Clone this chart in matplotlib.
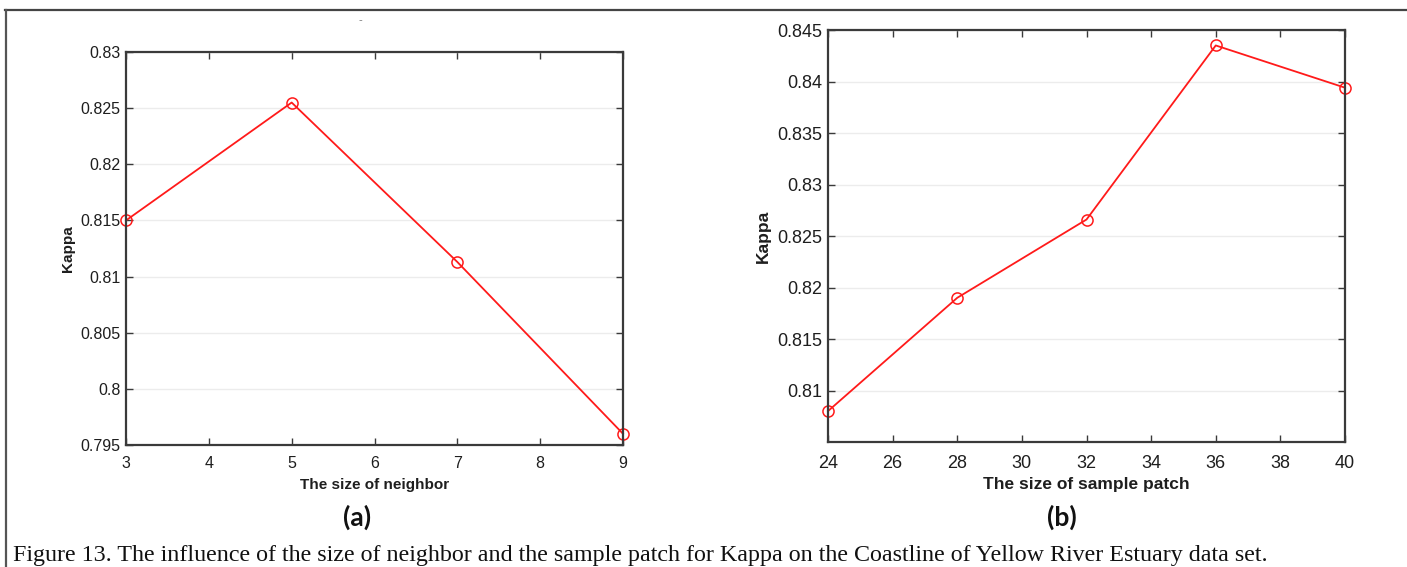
import matplotlib
matplotlib.use("Agg")
import matplotlib.pyplot as plt
from matplotlib.lines import Line2D

# Kappa versus neighbourhood size
neighbor_sizes = [3, 5, 7, 9]
kappa_neighbor = [0.8150, 0.8255, 0.8113, 0.7960]

# Kappa versus sample patch size
patch_sizes = [24, 28, 32, 36, 40]
kappa_patch = [0.8080, 0.8190, 0.8266, 0.8435, 0.8394]

neighbor_xticks = [3, 4, 5, 6, 7, 8, 9]
neighbor_yticks = [0.795, 0.8, 0.805, 0.81, 0.815, 0.82, 0.825, 0.83]
neighbor_yticklabels = ["0.795", "0.8", "0.805", "0.81", "0.815", "0.82", "0.825", "0.83"]

patch_xticks = [24, 26, 28, 30, 32, 34, 36, 38, 40]
patch_yticks = [0.81, 0.815, 0.82, 0.825, 0.83, 0.835, 0.84, 0.845]
patch_yticklabels = ["0.81", "0.815", "0.82", "0.825", "0.83", "0.835", "0.84", "0.845"]

caption = ("Figure 13. The influence of the size of neighbor and the sample patch for Kappa "
           "on the Coastline of Yellow River Estuary data set.")

W, H = 1407, 567
fig = plt.figure(figsize=(W / 100, H / 100), dpi=100)
fig.patch.set_facecolor("white")

sans = ["Liberation Sans", "DejaVu Sans"]
axis_color = "#3a3a3a"
text_color = "#1e1e1e"


def px_axes(left, top, right, bottom):
    return fig.add_axes([left / W, 1 - bottom / H, (right - left) / W, (bottom - top) / H])


def style(ax, xticks, yticks, yticklabels, xpad, size):
    ax.set_xticks(xticks)
    ax.set_yticks(yticks)
    ax.set_yticklabels(yticklabels)
    for s in ax.spines.values():
        s.set_color(axis_color)
        s.set_linewidth(1.6)
    ax.tick_params(direction="in", top=True, right=True, length=5, width=1.0,
                   color=axis_color, labelsize=size, labelcolor=text_color)
    ax.tick_params(axis="x", pad=xpad)
    ax.tick_params(axis="y", pad=4)
    for lab in ax.get_xticklabels() + ax.get_yticklabels():
        lab.set_family(sans)
    ax.yaxis.grid(True, color="#ececec", linewidth=1.0)
    ax.set_axisbelow(True)


line_kw = dict(color="#ff1a1a", linewidth=1.3, marker="o", markersize=8,
               markerfacecolor="none", markeredgecolor="#ff1a1a",
               markeredgewidth=1.1, clip_on=False)

# Panel (a)
ax1 = px_axes(126, 52, 623, 445)
ax1.plot(neighbor_sizes, kappa_neighbor, **line_kw)
ax1.set_xlim(3, 9)
ax1.set_ylim(0.795, 0.83)
style(ax1, neighbor_xticks, neighbor_yticks, neighbor_yticklabels, xpad=8, size=11.5)
ax1.set_xlabel("The size of neighbor", fontsize=11, fontweight="bold",
               family=sans, color=text_color, labelpad=5)
ax1.set_ylabel("Kappa", fontsize=11, fontweight="bold", family=sans,
               color=text_color, labelpad=4)

# Panel (b)
ax2 = px_axes(828, 30, 1345, 442)
ax2.plot(patch_sizes, kappa_patch, **line_kw)
ax2.set_xlim(24, 40)
ax2.set_ylim(0.805, 0.845)
style(ax2, patch_xticks, patch_yticks, patch_yticklabels, xpad=9, size=13)
ax2.set_xlabel("The size of sample patch", fontsize=12.5, fontweight="bold",
               family=sans, color=text_color, labelpad=4)
ax2.set_ylabel("Kappa", fontsize=12.5, fontweight="bold", family=sans,
               color=text_color, labelpad=5)

# Panel letters
fig.text(357 / W, 1 - 517 / H, "(a)", ha="center", va="center", fontsize=19,
         fontweight="bold", family=["Lato", "DejaVu Sans"], color="#111111")
fig.text(1062 / W, 1 - 517 / H, "(b)", ha="center", va="center", fontsize=19,
         fontweight="bold", family=["Lato", "DejaVu Sans"], color="#111111")

# Small stray dash above panel (a)
fig.text(360 / W, 1 - 20 / H, "-", ha="center", va="center", fontsize=8,
         color="#777777", family=sans)

# Caption
fig.text(13 / W, 1 - 555 / H, caption, ha="left", va="center", fontsize=17.3,
         family=["Liberation Serif", "DejaVu Serif"], color="#111111")

# Frame lines around the figure block
fig.add_artist(Line2D([5 / W, 1.0], [1 - 10 / H, 1 - 10 / H], transform=fig.transFigure,
                      color="#444444", linewidth=1.6))
fig.add_artist(Line2D([6 / W, 6 / W], [0.0, 1 - 10 / H], transform=fig.transFigure,
                      color="#555555", linewidth=1.6))

fig.savefig("out.png", dpi=100, facecolor="white")
